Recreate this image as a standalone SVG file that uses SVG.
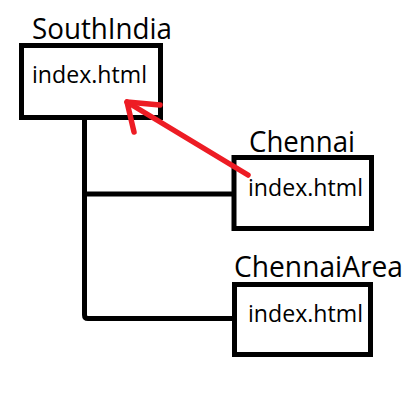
<svg xmlns="http://www.w3.org/2000/svg" width="411" height="401" viewBox="0 0 411 401">
<style>
.box{fill:#fff;stroke:#000;stroke-width:5}
.title{font-family:"Open Sans","Noto Sans",sans-serif;font-size:29px;fill:#000}
.file{font-family:"Open Sans","Noto Sans",sans-serif;font-size:23px;fill:#000}
.conn{fill:none;stroke:#000;stroke-width:5;stroke-linejoin:round}
.red{fill:none;stroke:#ED1C24;stroke-width:5.5;stroke-linecap:round;stroke-linejoin:round}
</style>
<rect width="411" height="401" fill="#fff"/>
<g id="connectors">
<path class="conn" d="M84.5,118 V315 Q84.5,318.5 88,318.5 H233"/>
<path class="conn" d="M84.5,194 H233"/>
</g>
<g id="southindia">
<text class="title" x="32" y="39" textLength="140" lengthAdjust="spacingAndGlyphs">SouthIndia</text>
<rect class="box" x="21.5" y="45.5" width="139" height="72"/>
<text class="file" x="32" y="83" textLength="115" lengthAdjust="spacingAndGlyphs">index.html</text>
</g>
<g id="chennai">
<text class="title" x="249" y="152" textLength="106" lengthAdjust="spacingAndGlyphs">Chennai</text>
<rect class="box" x="234" y="157.5" width="137.5" height="71"/>
<text class="file" x="248" y="196" textLength="115" lengthAdjust="spacingAndGlyphs">index.html</text>
</g>
<g id="chennaiarea">
<text class="title" x="234" y="277" textLength="169" lengthAdjust="spacingAndGlyphs">ChennaiArea</text>
<rect class="box" x="234.5" y="284.5" width="136" height="70"/>
<text class="file" x="248" y="322" textLength="115" lengthAdjust="spacingAndGlyphs">index.html</text>
</g>
<g id="arrow">
<path class="red" d="M248,175 L127,102"/>
<path class="red" d="M160,105 L127,102 L134,132"/>
</g>
</svg>
